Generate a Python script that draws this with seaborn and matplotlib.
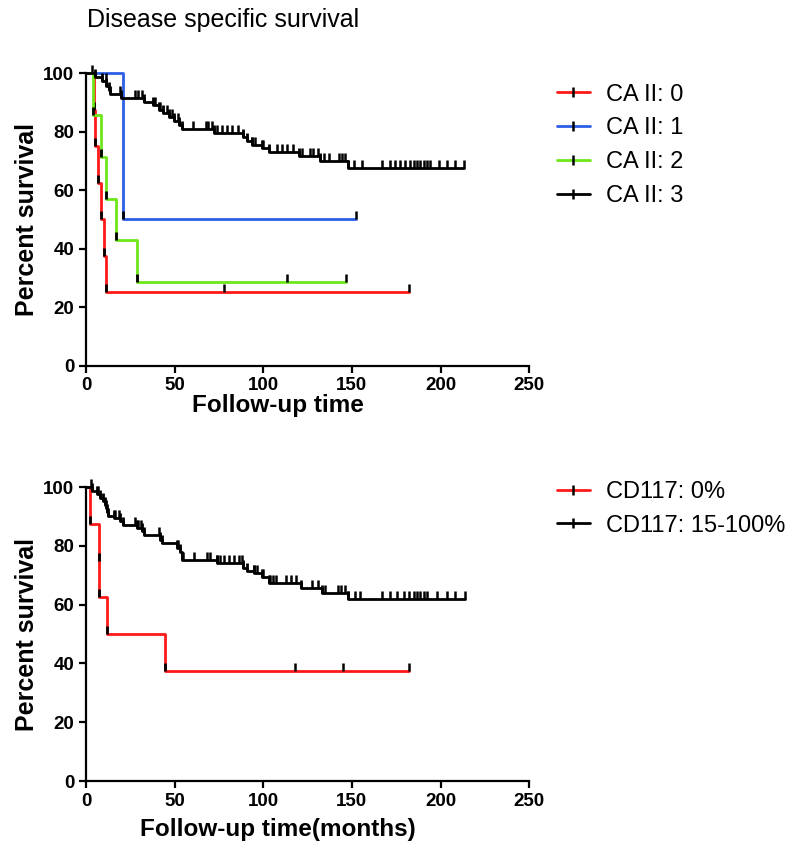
import numpy as np
import pandas as pd
import matplotlib
matplotlib.use("Agg")
import matplotlib.pyplot as plt
from matplotlib.lines import Line2D
import seaborn as sns

# ---- top panel: CA II groups (event times / survival after event, censor times)
ca0_evt = [4.3, 5.3, 7.0, 8.5, 10.3, 11.3]
ca0_surv = [87.5, 75.0, 62.5, 50.0, 37.5, 25.0]
ca0_cens = [78, 182]

ca1_evt = [21]
ca1_surv = [50.0]
ca1_cens = [152.5]

ca2_evt = [4.0, 8.7, 11.3, 17.2, 29.0]
ca2_surv = [85.7, 71.4, 57.1, 42.9, 28.6]
ca2_cens = [113.6, 146.6]

ca3_evt = [5, 9, 11.5, 12.8, 13.5, 20, 32.5, 38, 41, 43.7, 46.7, 49.5, 52.3, 54.2,
           72, 88.8, 90.7, 93.5, 99, 103, 120.4, 132, 148]
ca3_surv = [98.6, 97.2, 95.8, 94.4, 93.0, 91.7, 90.3, 89.0, 87.6, 86.3, 85.0, 83.6, 82.2, 80.8,
            79.5, 78.2, 76.9, 75.6, 74.5, 73.2, 71.6, 69.9, 67.6]
ca3_cens = [3.2, 11.3, 19.2, 27.7, 29.5, 31.4, 38.9, 41.8, 45.5, 48.4, 52.1, 60.6, 67.7, 69,
            70.9, 73.7, 76.6, 79.4, 82.2, 86, 93.5, 95.4, 100.1, 107.6, 110.4, 113.3, 117,
            121.7, 126.4, 128.2, 131.1, 134, 136.8, 142.5, 144.4, 146.3, 151, 155.7, 167,
            171.7, 174.5, 177.3, 180.2, 183, 184.9, 186.8, 188.6, 190.5, 192.4, 194.3, 199,
            203.7, 208.4, 213]

# ---- bottom panel: CD117 groups
cd0_evt = [2.4, 7.1, 7.5, 11.9, 44.8]
cd0_surv = [87.5, 75.0, 62.5, 50.0, 37.5]
cd0_cens = [117.8, 145, 182]

cd1_evt = [3.3, 6, 8, 9.5, 10.5, 11.3, 11.8, 12.4, 15.6, 19.4, 20.7, 28.8, 31.6, 32.5,
           42, 42.9, 51.4, 53.2, 54.2, 73.9, 88.5, 90.9, 94.6, 99.3, 103.1, 121, 133, 148]
cd1_surv = [98.8, 97.6, 96.4, 95.2, 94.0, 92.8, 91.5, 90.3, 89.4, 88.3, 87.2, 86.0, 84.9, 83.8,
            82.1, 80.9, 79.3, 78.0, 75.3, 74.0, 72.6, 71.5, 70.6, 69.4, 67.4, 65.6, 63.8, 61.8]
cd1_cens = [3, 7, 16.5, 18.5, 27.5, 29.5, 31, 41, 52, 54.5, 60.8, 68, 70, 73.9, 75.8, 77.6,
            80.5, 83.3, 86.1, 88, 94.6, 96.5, 100, 104, 105.5, 107, 113, 115.7, 118.5, 127.3,
            131.1, 134.8, 142, 144, 146, 148, 151.8, 154.6, 166.9, 171.6, 175.4, 179.1, 182,
            184.8, 186.7, 188.6, 190.5, 192.3, 198, 203.6, 208.3, 213.9]

top_labels = ["CA II: 0", "CA II: 1", "CA II: 2", "CA II: 3"]
bot_labels = ["CD117: 0%", "CD117: 15-100%"]
RED, BLUE, GREEN, BLACK = "#ff1a1a", "#2d5fe6", "#6ee617", "#000000"

sns.set_style("ticks", {"axes.edgecolor": "black", "text.color": "black",
                        "axes.labelcolor": "black", "xtick.color": "black",
                        "ytick.color": "black"})
plt.rcParams["font.family"] = ["Liberation Sans", "DejaVu Sans"]


def surv_at(t, evt, surv):
    i = np.searchsorted(evt, t, side="right")
    return 100.0 if i == 0 else surv[i - 1]


def km(ax, evt, surv, cens, color):
    end = max(cens) if cens else evt[-1]
    xs = [0] + list(evt) + [end]
    ys = [100] + list(surv) + [surv[-1]]
    df = pd.DataFrame({"t": xs, "s": ys})
    sns.lineplot(data=df, x="t", y="s", drawstyle="steps-post", color=color,
                 linewidth=2.0, sort=False, estimator=None, ax=ax, clip_on=False)
    # black marks at each event and censor ticks
    ax.plot(evt, surv, linestyle="none", marker=2, markersize=6, mew=2.0,
            color="black", clip_on=False)
    cy = [surv_at(c, evt, surv) for c in cens]
    ax.plot(cens, cy, linestyle="none", marker=2, markersize=6, mew=1.8,
            color="black", clip_on=False)


def style(ax, xlabel, xpad):
    ax.set_xlim(0, 250)
    ax.set_ylim(0, 100)
    ax.set_xticks([0, 50, 100, 150, 200, 250])
    ax.set_yticks([0, 20, 40, 60, 80, 100])
    sns.despine(ax=ax)
    for s in ["left", "bottom"]:
        ax.spines[s].set_linewidth(1.6)
    ax.tick_params(width=1.6, length=5, labelsize=13.5, direction="out")
    for lab in ax.get_xticklabels() + ax.get_yticklabels():
        lab.set_fontweight("bold")
    ax.set_xlabel(xlabel, fontsize=17.5, fontweight="bold", labelpad=xpad, x=0.433)
    ax.set_ylabel("Percent survival", fontsize=18, fontweight="bold", labelpad=3)


fig = plt.figure(figsize=(8, 8.58), dpi=100)
ax1 = fig.add_axes([0.1075, 0.574, 0.554, 0.3406])
ax2 = fig.add_axes([0.1075, 0.0897, 0.554, 0.3427])

km(ax1, ca0_evt, ca0_surv, ca0_cens, RED)
km(ax1, ca1_evt, ca1_surv, ca1_cens, BLUE)
km(ax1, ca2_evt, ca2_surv, ca2_cens, GREEN)
km(ax1, ca3_evt, ca3_surv, ca3_cens, BLACK)
style(ax1, "Follow-up time", 0)

km(ax2, cd0_evt, cd0_surv, cd0_cens, RED)
km(ax2, cd1_evt, cd1_surv, cd1_cens, BLACK)
style(ax2, "Follow-up time(months)", 6)


def handles(colors):
    return [Line2D([0], [0], color=c, lw=2.0, marker="|", markersize=7, mew=1.8,
                   mec="black") for c in colors]


leg_kw = dict(loc="upper left", bbox_transform=fig.transFigure, frameon=False,
              fontsize=17, handlelength=1.4, handletextpad=0.7, labelspacing=0.5,
              borderpad=0, borderaxespad=0)
ax1.legend(handles([RED, BLUE, GREEN, BLACK]), top_labels,
           bbox_to_anchor=(0.696, 0.9025), **leg_kw)
ax2.legend(handles([RED, BLACK]), bot_labels,
           bbox_to_anchor=(0.696, 0.4395), **leg_kw)

fig.text(0.109, 1 - 27 / 858, "Disease specific survival", fontsize=18, va="baseline")

fig.savefig("out.png", dpi=100)
